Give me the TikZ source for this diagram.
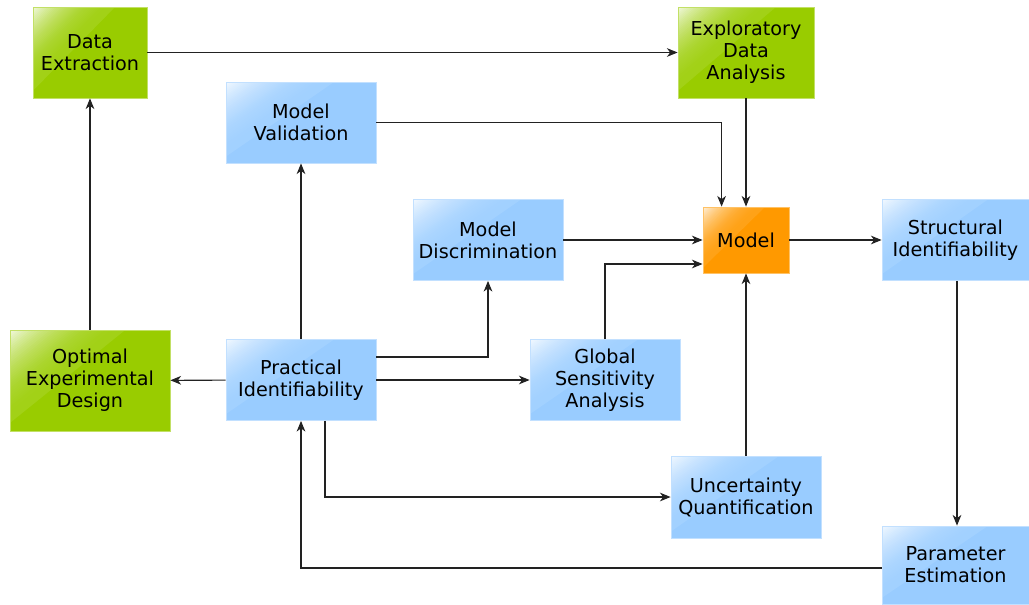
\documentclass[tikz,border=0pt]{standalone}
\usepackage{fontspec}
\setmainfont{DejaVu Sans}
\usetikzlibrary{arrows.meta,calc}
\definecolor{gboxc}{HTML}{99CC00}
\definecolor{bboxc}{HTML}{99CCFF}
\definecolor{oboxc}{HTML}{FF9900}
\definecolor{linec}{HTML}{222222}
\tikzset{
  boxbase/.style={rectangle, inner sep=0pt, align=center,
    font=\fontsize{14.4}{16.5}\selectfont,
    fill=#1, draw=#1!60!white, line width=0.6pt,
    path picture={
      \foreach \gi in {40,39,...,1}{
        \pgfmathsetmacro\glt{\gi/40}
        \pgfmathtruncatemacro\glp{9+81*(1-\glt)^2}
        \fill[white!\glp!#1]
          (path picture bounding box.north west)
          -- ($(path picture bounding box.north west)!\glt*0.72!(path picture bounding box.north east)$)
          -- ($(path picture bounding box.north west)!\glt*0.92!(path picture bounding box.south west)$)
          -- cycle;
      }}},
  gbox/.style={boxbase=gboxc},
  bbox/.style={boxbase=bboxc},
  obox/.style={boxbase=oboxc},
  arr/.style={draw=linec, line width=0.8pt, -{Stealth[length=8pt,width=6.5pt,inset=2.4pt]}}
}
\begin{document}
\begin{tikzpicture}[x=0.75pt,y=-0.75pt]
\useasboundingbox (0,0) rectangle (1029,604);
% nodes
\node[gbox, minimum width=85.5pt, minimum height=68.25pt] (de) at (90,52.5) {Data\\Extraction};
\node[gbox, minimum width=102pt, minimum height=68.25pt] (eda) at (746,52.5) {Exploratory\\Data\\Analysis};
\node[bbox, minimum width=112.5pt, minimum height=60.75pt] (mv) at (301,122.5) {Model\\Validation};
\node[bbox, minimum width=112.5pt, minimum height=60.75pt] (md) at (488,240) {Model\\Discrimination};
\node[obox, minimum width=64.5pt, minimum height=49.5pt] (model) at (746,240) {Model};
\node[bbox, minimum width=110.25pt, minimum height=60.75pt] (si) at (955.5,240) {Structural\\Identifiability};
\node[gbox, minimum width=120pt, minimum height=75.75pt] (oed) at (90,380.5) {Optimal\\Experimental\\Design};
\node[bbox, minimum width=112.5pt, minimum height=60.75pt] (pi) at (301,380) {Practical\\Identifiability};
\node[bbox, minimum width=112.5pt, minimum height=60.75pt] (gsa) at (605,380) {Global\\Sensitivity\\Analysis};
\node[bbox, minimum width=112.5pt, minimum height=61.5pt] (uq) at (746,497) {Uncertainty\\Quantification};
\node[bbox, minimum width=110.25pt, minimum height=58.5pt] (pe) at (955.5,565) {Parameter\\Estimation};
% connectors
\draw[arr] (de) -- (eda);
\draw[arr] (oed) -- (de);
\draw[arr] (mv.east) -| ($(model.north west)+(19,0)$);
\draw[arr] (eda) -- (model);
\draw[arr] (md) -- (model);
\draw[arr] (gsa.north) |- ($(model.west)+(0,24)$);
\draw[arr] (model) -- (si);
\draw[arr] ($(si.south)+(1.5,0)$) -- ($(pe.north)+(1.5,0)$);
\draw[arr] ($(pe.west)+(0,3)$) -| (pi.south);
\draw[arr] (pi) -- (mv);
\draw[arr] ($(pi.east)+(0,-23)$) -| (md.south);
\draw[arr] (pi) -- (gsa);
\draw[arr] (pi) -- (oed);
\draw[arr] ($(pi.south)+(24,0)$) |- (uq.west);
\draw[arr] (uq) -- (model);
\end{tikzpicture}
\end{document}
